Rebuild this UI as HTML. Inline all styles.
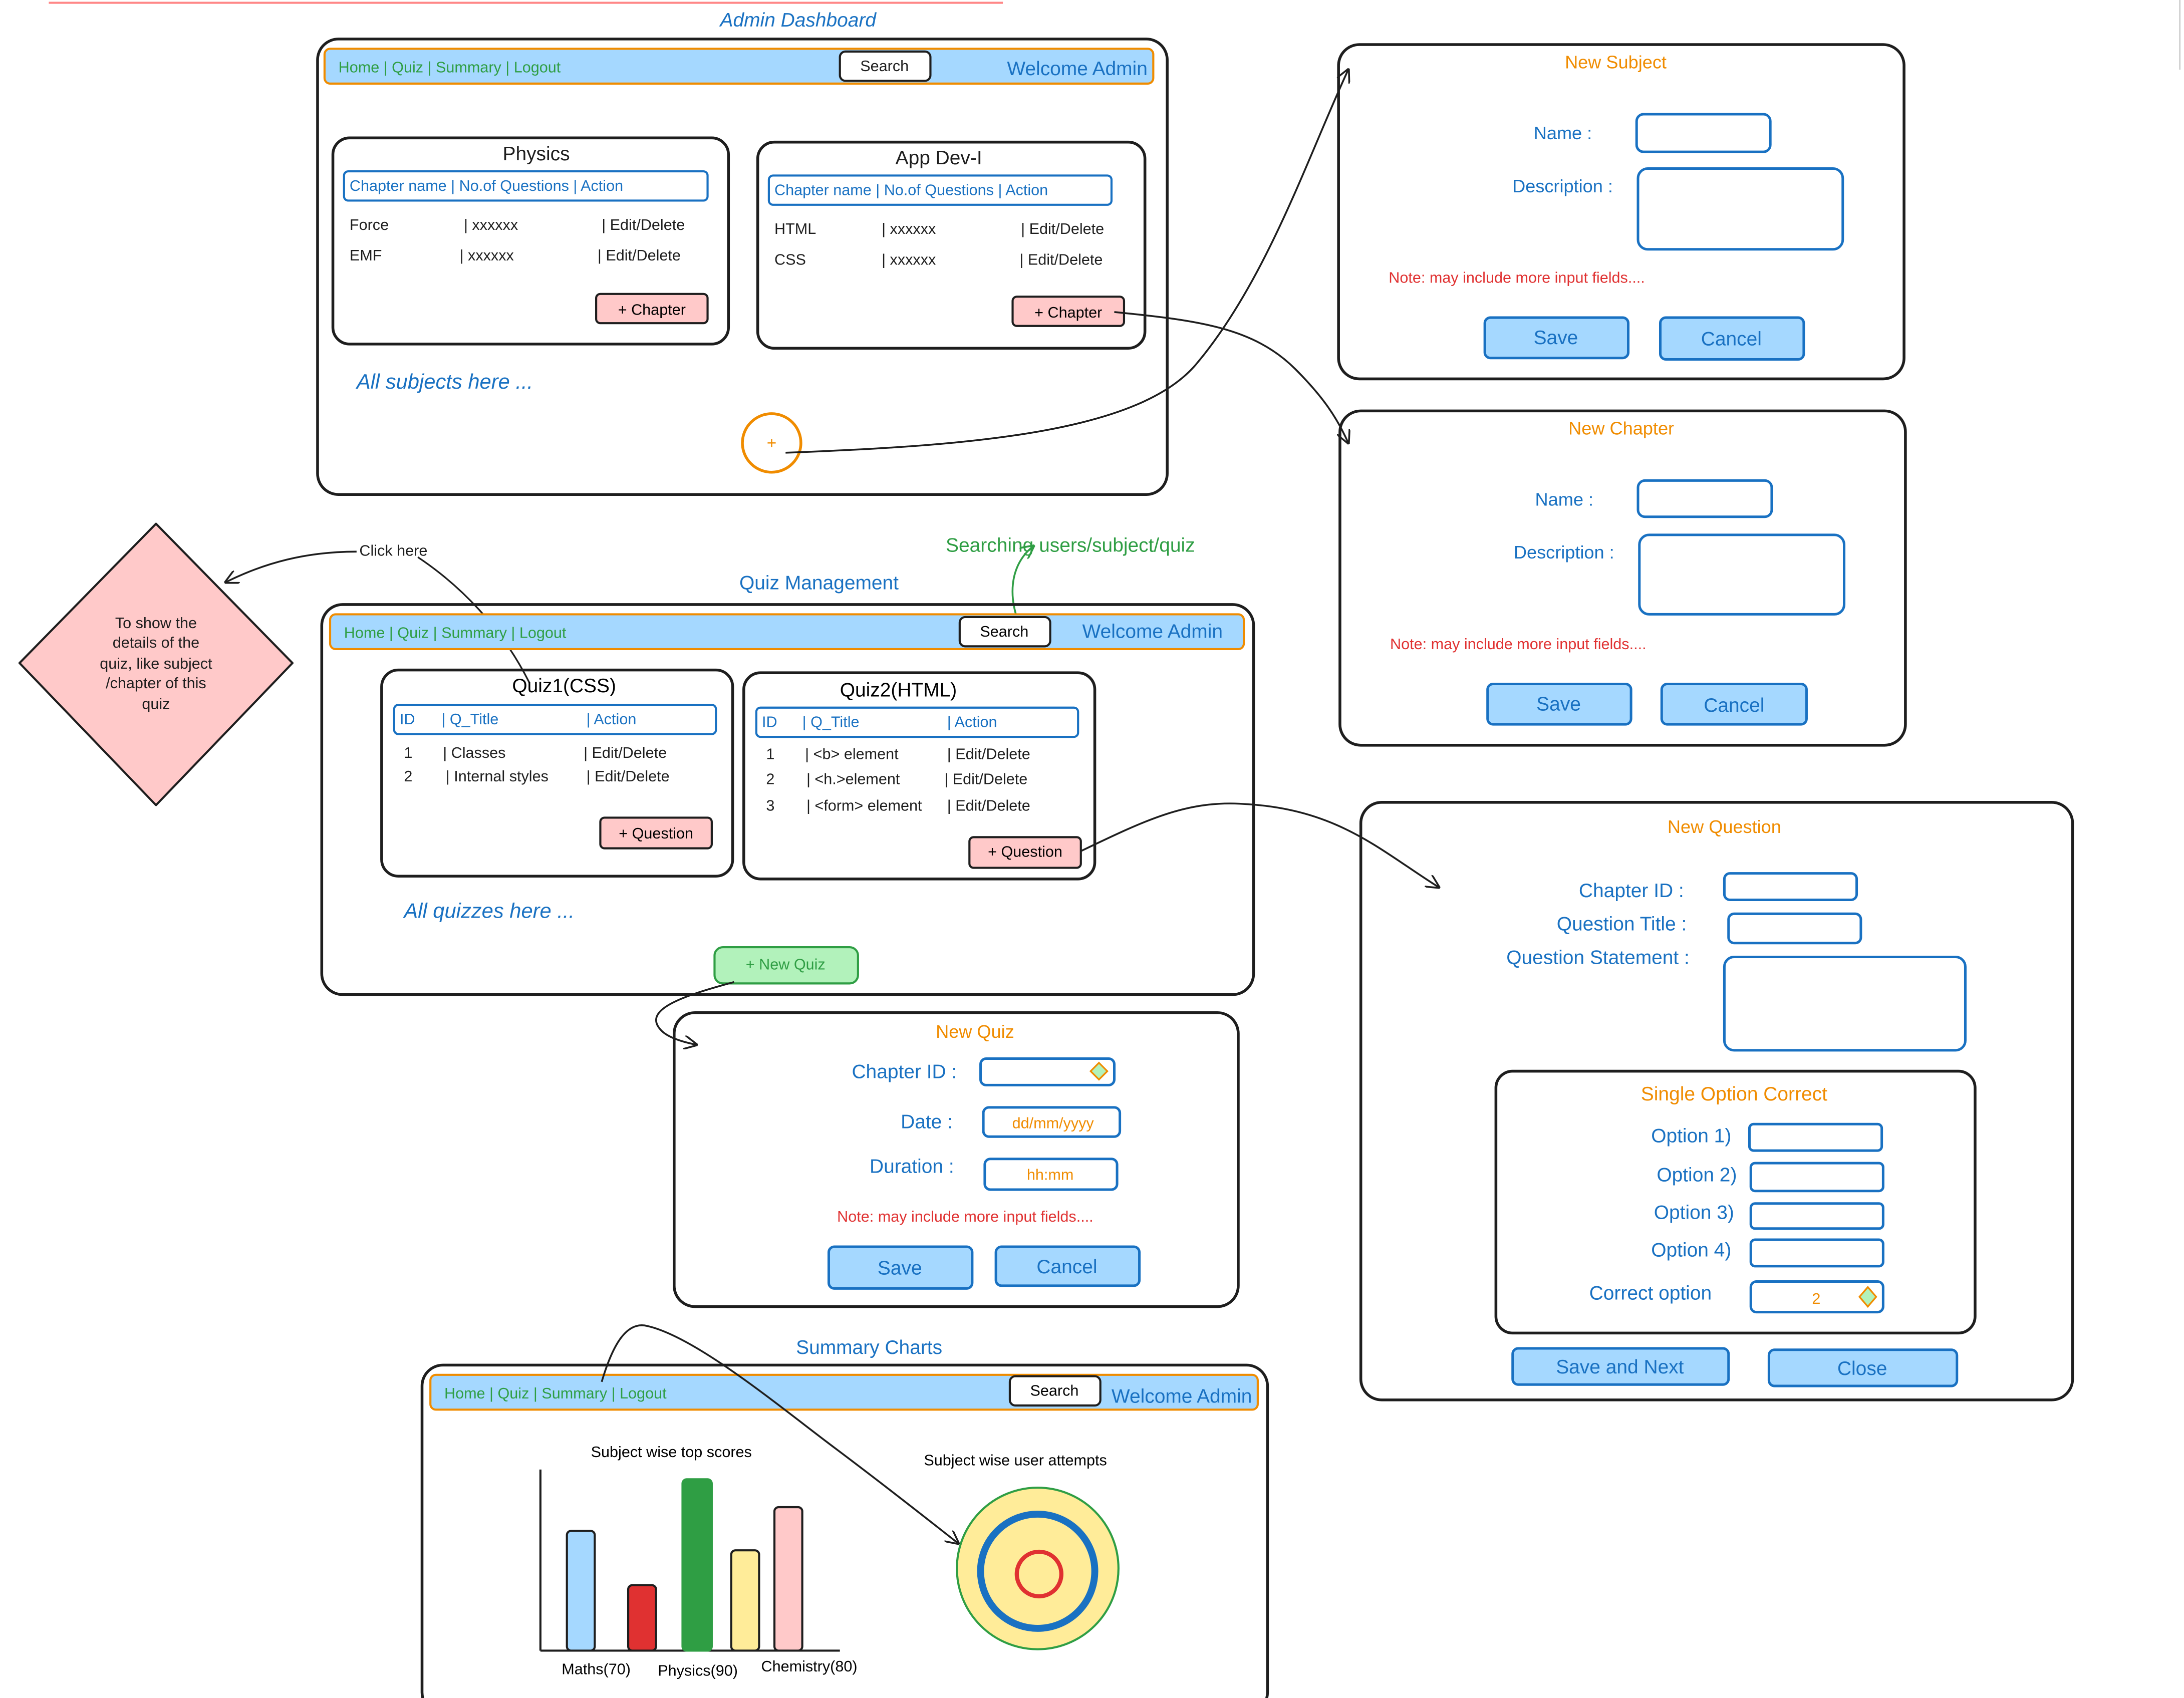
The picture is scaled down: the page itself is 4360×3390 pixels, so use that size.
<!DOCTYPE html>
<html><head><meta charset="utf-8"><style>
html,body{margin:0;padding:0;background:#fff}
svg{display:block}
text{font-family:"Liberation Sans",sans-serif}
</style></head><body>
<svg width="4360" height="3390" viewBox="0 0 1568 1219" preserveAspectRatio="none" xmlns="http://www.w3.org/2000/svg">
<defs>
<marker id="ah" markerWidth="10" markerHeight="10" refX="9" refY="5" orient="auto" markerUnits="userSpaceOnUse"><path d="M0,0 L10,5 L0,10" fill="none" stroke="#1e1e1e" stroke-width="1.3"/></marker>
<marker id="ag" markerWidth="10" markerHeight="10" refX="9" refY="5" orient="auto" markerUnits="userSpaceOnUse"><path d="M0,0 L10,5 L0,10" fill="none" stroke="#2f9e44" stroke-width="1.3"/></marker>
</defs>
<line x1="35" y1="2" x2="720" y2="2" stroke="#ff8787" stroke-width="1.5"/>
<line x1="1565" y1="0" x2="1565" y2="50" stroke="#ccc" stroke-width="1"/>

<!-- Admin Dashboard -->
<text x="573" y="19" font-size="14" fill="#1971c2" text-anchor="middle" font-style="italic">Admin Dashboard</text>
<rect x="228" y="28" width="610" height="327" rx="15" fill="none" stroke="#1e1e1e" stroke-width="2"/>
<rect x="233" y="35" width="595" height="25" rx="4" fill="#a5d8ff" stroke="#f08c00" stroke-width="1.5"/>
<text x="243" y="52" font-size="11" fill="#2f9e44">Home | Quiz | Summary | Logout</text>
<rect x="603" y="37" width="65" height="21" rx="4" fill="#fff" stroke="#1e1e1e" stroke-width="1.5"/>
<text x="635" y="51" font-size="11" text-anchor="middle" fill="#1e1e1e">Search</text>
<text x="723" y="54" font-size="14" fill="#1971c2">Welcome Admin</text>

<rect x="239" y="99" width="284" height="148" rx="12" fill="none" stroke="#1e1e1e" stroke-width="2"/>
<text x="385" y="115" font-size="14" text-anchor="middle" fill="#1e1e1e">Physics</text>
<rect x="247" y="123" width="261" height="21" rx="3" fill="none" stroke="#1971c2" stroke-width="1.5"/>
<text x="251" y="137" font-size="11" fill="#1971c2">Chapter name | No.of Questions | Action</text>
<g font-size="11" fill="#1e1e1e"><text x="251" y="165">Force</text><text x="333" y="165">| xxxxxx</text><text x="432" y="165">| Edit/Delete</text>
<text x="251" y="187">EMF</text><text x="330" y="187">| xxxxxx</text><text x="429" y="187">| Edit/Delete</text></g>
<rect x="428" y="211" width="80" height="21" rx="3" fill="#ffc9c9" stroke="#1e1e1e" stroke-width="1.5"/>
<text x="468" y="226" font-size="11" text-anchor="middle">+ Chapter</text>

<rect x="544" y="102" width="278" height="148" rx="12" fill="none" stroke="#1e1e1e" stroke-width="2"/>
<text x="674" y="118" font-size="14" text-anchor="middle" fill="#1e1e1e">App Dev-I</text>
<rect x="552" y="126" width="246" height="21" rx="3" fill="none" stroke="#1971c2" stroke-width="1.5"/>
<text x="556" y="140" font-size="11" fill="#1971c2">Chapter name | No.of Questions | Action</text>
<g font-size="11" fill="#1e1e1e"><text x="556" y="168">HTML</text><text x="633" y="168">| xxxxxx</text><text x="733" y="168">| Edit/Delete</text>
<text x="556" y="190">CSS</text><text x="633" y="190">| xxxxxx</text><text x="732" y="190">| Edit/Delete</text></g>
<rect x="727" y="213" width="80" height="21" rx="3" fill="#ffc9c9" stroke="#1e1e1e" stroke-width="1.5"/>
<text x="767" y="228" font-size="11" text-anchor="middle">+ Chapter</text>

<text x="256" y="279" font-size="15" fill="#1971c2" font-style="italic">All subjects here ...</text>
<circle cx="554" cy="318" r="21" fill="none" stroke="#f08c00" stroke-width="2"/>
<text x="554" y="322" font-size="12" fill="#f08c00" text-anchor="middle">+</text>
<path d="M564,325 C700,320 820,310 860,260 C910,200 940,110 968,50" fill="none" stroke="#1e1e1e" stroke-width="1.3" marker-end="url(#ah)"/>
<path d="M800,224 C860,230 900,235 930,265 C950,285 960,300 968,318" fill="none" stroke="#1e1e1e" stroke-width="1.3" marker-end="url(#ah)"/>

<!-- New Subject -->
<rect x="961" y="32" width="406" height="240" rx="15" fill="none" stroke="#1e1e1e" stroke-width="2"/>
<text x="1160" y="49" font-size="13" fill="#f08c00" text-anchor="middle">New Subject</text>
<text x="1143" y="100" font-size="13" fill="#1971c2" text-anchor="end">Name :</text>
<rect x="1175" y="82" width="96" height="27" rx="5" fill="none" stroke="#1971c2" stroke-width="1.8"/>
<text x="1158" y="138" font-size="13" fill="#1971c2" text-anchor="end">Description :</text>
<rect x="1176" y="121" width="147" height="58" rx="7" fill="none" stroke="#1971c2" stroke-width="1.8"/>
<text x="997" y="203" font-size="11" fill="#e03131">Note: may include more input fields....</text>
<rect x="1066" y="228" width="103" height="29" rx="4" fill="#a5d8ff" stroke="#1971c2" stroke-width="1.8"/>
<text x="1117" y="247" font-size="14" fill="#1971c2" text-anchor="middle">Save</text>
<rect x="1192" y="228" width="103" height="30" rx="4" fill="#a5d8ff" stroke="#1971c2" stroke-width="1.8"/>
<text x="1243" y="248" font-size="14" fill="#1971c2" text-anchor="middle">Cancel</text>

<!-- New Chapter -->
<rect x="962" y="295" width="406" height="240" rx="15" fill="none" stroke="#1e1e1e" stroke-width="2"/>
<text x="1164" y="312" font-size="13" fill="#f08c00" text-anchor="middle">New Chapter</text>
<text x="1144" y="363" font-size="13" fill="#1971c2" text-anchor="end">Name :</text>
<rect x="1176" y="345" width="96" height="26" rx="5" fill="none" stroke="#1971c2" stroke-width="1.8"/>
<text x="1159" y="401" font-size="13" fill="#1971c2" text-anchor="end">Description :</text>
<rect x="1177" y="384" width="147" height="57" rx="7" fill="none" stroke="#1971c2" stroke-width="1.8"/>
<text x="998" y="466" font-size="11" fill="#e03131">Note: may include more input fields....</text>
<rect x="1068" y="491" width="103" height="29" rx="4" fill="#a5d8ff" stroke="#1971c2" stroke-width="1.8"/>
<text x="1119" y="510" font-size="14" fill="#1971c2" text-anchor="middle">Save</text>
<rect x="1193" y="491" width="104" height="29" rx="4" fill="#a5d8ff" stroke="#1971c2" stroke-width="1.8"/>
<text x="1245" y="511" font-size="14" fill="#1971c2" text-anchor="middle">Cancel</text>

<!-- Diamond -->
<path d="M112,376 L210,476 L112,578 L14,476 Z" fill="#ffc9c9" stroke="#1e1e1e" stroke-width="1.5" stroke-linejoin="round"/>
<g font-size="11" fill="#1e1e1e" text-anchor="middle"><text x="112" y="451">To show the</text><text x="112" y="465">details of the</text><text x="112" y="480">quiz, like subject</text><text x="112" y="494">/chapter of this</text><text x="112" y="509">quiz</text></g>
<text x="258" y="399" font-size="11" fill="#1e1e1e">Click here</text>
<path d="M256,396 C220,396 190,404 162,418" fill="none" stroke="#1e1e1e" stroke-width="1.3" marker-end="url(#ah)"/>
<path d="M300,400 C330,420 360,450 380,490" fill="none" stroke="#1e1e1e" stroke-width="1.2"/>

<text x="679" y="396" font-size="14" fill="#2f9e44">Searching users/subject/quiz</text>
<path d="M735,455 C722,430 725,405 742,392" fill="none" stroke="#2f9e44" stroke-width="1.3" marker-end="url(#ag)"/>

<!-- Quiz Management -->
<text x="588" y="423" font-size="14" fill="#1971c2" text-anchor="middle">Quiz Management</text>
<rect x="231" y="434" width="669" height="280" rx="15" fill="none" stroke="#1e1e1e" stroke-width="2"/>
<rect x="237" y="441" width="656" height="25" rx="4" fill="#a5d8ff" stroke="#f08c00" stroke-width="1.5"/>
<text x="247" y="458" font-size="11" fill="#2f9e44">Home | Quiz | Summary | Logout</text>
<rect x="689" y="443" width="65" height="21" rx="4" fill="#fff" stroke="#1e1e1e" stroke-width="1.5"/>
<text x="721" y="457" font-size="11" text-anchor="middle">Search</text>
<text x="777" y="458" font-size="14" fill="#1971c2">Welcome Admin</text>

<rect x="274" y="481" width="252" height="148" rx="12" fill="none" stroke="#1e1e1e" stroke-width="2"/>
<text x="405" y="497" font-size="14" text-anchor="middle">Quiz1(CSS)</text>
<rect x="283" y="506" width="231" height="21" rx="3" fill="none" stroke="#1971c2" stroke-width="1.5"/>
<g font-size="11" fill="#1971c2"><text x="287" y="520">ID</text><text x="317" y="520">| Q_Title</text><text x="421" y="520">| Action</text></g>
<g font-size="11" fill="#1e1e1e"><text x="290" y="544">1</text><text x="318" y="544">| Classes</text><text x="419" y="544">| Edit/Delete</text>
<text x="290" y="561">2</text><text x="320" y="561">| Internal styles</text><text x="421" y="561">| Edit/Delete</text></g>
<rect x="431" y="587" width="80" height="22" rx="3" fill="#ffc9c9" stroke="#1e1e1e" stroke-width="1.5"/>
<text x="471" y="602" font-size="11" text-anchor="middle">+ Question</text>

<rect x="534" y="483" width="252" height="148" rx="12" fill="none" stroke="#1e1e1e" stroke-width="2"/>
<text x="645" y="500" font-size="14" text-anchor="middle">Quiz2(HTML)</text>
<rect x="543" y="508" width="231" height="21" rx="3" fill="none" stroke="#1971c2" stroke-width="1.5"/>
<g font-size="11" fill="#1971c2"><text x="547" y="522">ID</text><text x="576" y="522">| Q_Title</text><text x="680" y="522">| Action</text></g>
<g font-size="11" fill="#1e1e1e"><text x="550" y="545">1</text><text x="578" y="545">| &lt;b&gt; element</text><text x="680" y="545">| Edit/Delete</text>
<text x="550" y="563">2</text><text x="579" y="563">| &lt;h.&gt;element</text><text x="678" y="563">| Edit/Delete</text>
<text x="550" y="582">3</text><text x="579" y="582">| &lt;form&gt; element</text><text x="680" y="582">| Edit/Delete</text></g>
<rect x="696" y="601" width="80" height="22" rx="3" fill="#ffc9c9" stroke="#1e1e1e" stroke-width="1.5"/>
<text x="736" y="615" font-size="11" text-anchor="middle">+ Question</text>

<text x="290" y="659" font-size="15" fill="#1971c2" font-style="italic">All quizzes here ...</text>
<rect x="513" y="680" width="103" height="26" rx="6" fill="#b2f2bb" stroke="#2f9e44" stroke-width="1.5"/>
<text x="564" y="696" font-size="11" fill="#2f9e44" text-anchor="middle">+ New Quiz</text>
<path d="M527,705 C490,715 460,725 475,740 C480,745 490,748 500,750" fill="none" stroke="#1e1e1e" stroke-width="1.3" marker-end="url(#ah)"/>
<path d="M776,611 C820,590 850,575 890,577 C960,580 990,610 1033,637" fill="none" stroke="#1e1e1e" stroke-width="1.3" marker-end="url(#ah)"/>

<!-- New Quiz -->
<rect x="484" y="727" width="405" height="211" rx="15" fill="none" stroke="#1e1e1e" stroke-width="2"/>
<text x="700" y="745" font-size="13" fill="#f08c00" text-anchor="middle">New Quiz</text>
<text x="687" y="774" font-size="14" fill="#1971c2" text-anchor="end">Chapter ID :</text>
<rect x="704" y="760" width="96" height="19" rx="4" fill="none" stroke="#1971c2" stroke-width="1.8"/>
<path d="M789,763 L795,769 L789,775 L783,769 Z" fill="#b2f2bb" stroke="#f08c00" stroke-width="1.2"/>
<text x="684" y="810" font-size="14" fill="#1971c2" text-anchor="end">Date :</text>
<rect x="706" y="795" width="98" height="21" rx="4" fill="none" stroke="#1971c2" stroke-width="1.8"/>
<text x="756" y="810" font-size="11" fill="#f08c00" text-anchor="middle">dd/mm/yyyy</text>
<text x="685" y="842" font-size="14" fill="#1971c2" text-anchor="end">Duration :</text>
<rect x="707" y="832" width="95" height="22" rx="4" fill="none" stroke="#1971c2" stroke-width="1.8"/>
<text x="754" y="847" font-size="11" fill="#f08c00" text-anchor="middle">hh:mm</text>
<text x="601" y="877" font-size="11" fill="#e03131">Note: may include more input fields....</text>
<rect x="595" y="895" width="103" height="30" rx="4" fill="#a5d8ff" stroke="#1971c2" stroke-width="1.8"/>
<text x="646" y="915" font-size="14" fill="#1971c2" text-anchor="middle">Save</text>
<rect x="715" y="895" width="103" height="28" rx="4" fill="#a5d8ff" stroke="#1971c2" stroke-width="1.8"/>
<text x="766" y="914" font-size="14" fill="#1971c2" text-anchor="middle">Cancel</text>

<!-- New Question -->
<rect x="977" y="576" width="511" height="429" rx="15" fill="none" stroke="#1e1e1e" stroke-width="2"/>
<text x="1238" y="598" font-size="13" fill="#f08c00" text-anchor="middle">New Question</text>
<g font-size="14" fill="#1971c2" text-anchor="end"><text x="1209" y="644">Chapter ID :</text><text x="1211" y="668">Question Title :</text><text x="1213" y="692">Question Statement :</text></g>
<rect x="1238" y="627" width="95" height="19" rx="4" fill="none" stroke="#1971c2" stroke-width="1.8"/>
<rect x="1241" y="656" width="95" height="21" rx="4" fill="none" stroke="#1971c2" stroke-width="1.8"/>
<rect x="1238" y="687" width="173" height="67" rx="7" fill="none" stroke="#1971c2" stroke-width="1.8"/>
<rect x="1074" y="769" width="344" height="188" rx="12" fill="none" stroke="#1e1e1e" stroke-width="2"/>
<text x="1245" y="790" font-size="14" fill="#f08c00" text-anchor="middle">Single Option Correct</text>
<g font-size="14" fill="#1971c2" text-anchor="end"><text x="1243" y="820">Option 1)</text><text x="1247" y="848">Option 2)</text><text x="1245" y="875">Option 3)</text><text x="1243" y="902">Option 4)</text></g>
<rect x="1256" y="807" width="95" height="19" rx="3" fill="none" stroke="#1971c2" stroke-width="1.8"/>
<rect x="1257" y="835" width="95" height="20" rx="3" fill="none" stroke="#1971c2" stroke-width="1.8"/>
<rect x="1257" y="864" width="95" height="18" rx="3" fill="none" stroke="#1971c2" stroke-width="1.8"/>
<rect x="1257" y="890" width="95" height="19" rx="3" fill="none" stroke="#1971c2" stroke-width="1.8"/>
<text x="1141" y="933" font-size="14" fill="#1971c2">Correct option</text>
<rect x="1257" y="920" width="95" height="22" rx="4" fill="none" stroke="#1971c2" stroke-width="1.8"/>
<text x="1304" y="936" font-size="11" fill="#f08c00" text-anchor="middle">2</text>
<path d="M1341,924 L1347,931 L1341,938 L1335,931 Z" fill="#b2f2bb" stroke="#f08c00" stroke-width="1.2"/>
<rect x="1086" y="968" width="155" height="26" rx="4" fill="#a5d8ff" stroke="#1971c2" stroke-width="1.8"/>
<text x="1163" y="986" font-size="14" fill="#1971c2" text-anchor="middle">Save and Next</text>
<rect x="1270" y="969" width="135" height="26" rx="4" fill="#a5d8ff" stroke="#1971c2" stroke-width="1.8"/>
<text x="1337" y="987" font-size="14" fill="#1971c2" text-anchor="middle">Close</text>

<!-- Summary Charts -->
<text x="624" y="972" font-size="14" fill="#1971c2" text-anchor="middle">Summary Charts</text>
<rect x="303" y="980" width="607" height="250" rx="15" fill="none" stroke="#1e1e1e" stroke-width="2"/>
<rect x="309" y="987" width="594" height="25" rx="4" fill="#a5d8ff" stroke="#f08c00" stroke-width="1.5"/>
<text x="319" y="1004" font-size="11" fill="#2f9e44">Home | Quiz | Summary | Logout</text>
<rect x="725" y="988" width="65" height="21" rx="4" fill="#fff" stroke="#1e1e1e" stroke-width="1.5"/>
<text x="757" y="1002" font-size="11" text-anchor="middle">Search</text>
<text x="798" y="1007" font-size="14" fill="#1971c2">Welcome Admin</text>
<path d="M432,992 C440,965 450,948 465,952 C500,960 560,1010 600,1040 C640,1070 665,1090 688,1108" fill="none" stroke="#1e1e1e" stroke-width="1.3" marker-end="url(#ah)"/>

<text x="482" y="1046" font-size="11" text-anchor="middle">Subject wise top scores</text>
<line x1="388" y1="1055" x2="388" y2="1185" stroke="#1e1e1e" stroke-width="1.5"/>
<line x1="388" y1="1185" x2="603" y2="1185" stroke="#1e1e1e" stroke-width="1.5"/>
<rect x="407" y="1099" width="20" height="86" rx="3" fill="#a5d8ff" stroke="#1e1e1e" stroke-width="1.5"/>
<rect x="451" y="1138" width="20" height="47" rx="3" fill="#e03131" stroke="#1e1e1e" stroke-width="1.5"/>
<rect x="490" y="1062" width="21" height="123" rx="3" fill="#2f9e44" stroke="#2f9e44" stroke-width="1.5"/>
<rect x="525" y="1113" width="20" height="72" rx="3" fill="#ffec99" stroke="#1e1e1e" stroke-width="1.5"/>
<rect x="556" y="1082" width="20" height="103" rx="3" fill="#ffc9c9" stroke="#1e1e1e" stroke-width="1.5"/>
<g font-size="11" text-anchor="middle"><text x="428" y="1202">Maths(70)</text><text x="501" y="1203">Physics(90)</text><text x="581" y="1200">Chemistry(80)</text></g>
<text x="729" y="1052" font-size="11" text-anchor="middle">Subject wise user attempts</text>
<circle cx="745" cy="1126" r="58" fill="#ffec99" stroke="#2f9e44" stroke-width="1.5"/>
<circle cx="745" cy="1128" r="41" fill="none" stroke="#1971c2" stroke-width="5"/>
<circle cx="746" cy="1130" r="16" fill="none" stroke="#e03131" stroke-width="3"/>
</svg>
</body></html>
